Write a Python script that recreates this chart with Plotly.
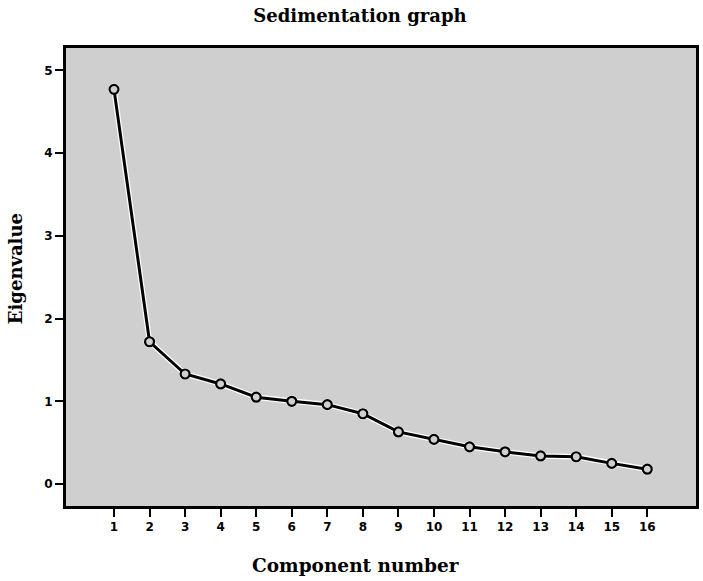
import plotly.graph_objects as go

components = list(range(1, 17))
eigenvalues = [4.77, 1.72, 1.33, 1.21, 1.05, 1.00, 0.96, 0.85, 0.63, 0.54, 0.45, 0.39, 0.34, 0.33, 0.25, 0.18]
x_ticks = list(range(1, 17))
y_ticks = [0, 1, 2, 3, 4, 5]

fig = go.Figure()
# white halo under the line
fig.add_trace(go.Scatter(x=components, y=eigenvalues, mode="lines+markers",
                         line=dict(color="white", width=5.5),
                         marker=dict(size=12, color="white", line=dict(width=0)),
                         hoverinfo="skip", showlegend=False))
fig.add_trace(go.Scatter(x=components, y=eigenvalues, mode="lines+markers",
                         line=dict(color="black", width=3),
                         marker=dict(symbol="circle", size=9, color="#cfcfcf",
                                     line=dict(color="black", width=2.2)),
                         showlegend=False))

title_font = dict(family="DejaVu Serif", size=18, color="black", weight="bold")
tick_font = dict(family="DejaVu Sans", size=12, color="black", weight="bold")

fig.update_layout(
    width=703, height=581,
    margin=dict(l=66, r=4, t=48, b=75),
    paper_bgcolor="white",
    plot_bgcolor="#cfcfcf",
    title=dict(text="Sedimentation graph", x=0.512, xanchor="center", y=0.984, yanchor="top",
               font=title_font),
    xaxis=dict(range=[-0.35, 17.37], tickvals=x_ticks, ticktext=[str(v) for v in x_ticks],
               showgrid=False, zeroline=False, showline=True, linecolor="black", linewidth=3,
               mirror=True, ticks="outside", ticklen=8, tickwidth=2, tickcolor="black",
               tickfont=tick_font),
    yaxis=dict(range=[-0.265, 5.27], tickvals=y_ticks, ticktext=[str(v) for v in y_ticks],
               showgrid=False, zeroline=False, showline=True, linecolor="black", linewidth=3,
               mirror=True, ticks="outside", ticklen=8, tickwidth=2, tickcolor="black",
               tickfont=tick_font),
    annotations=[
        dict(text="Component number", xref="paper", yref="paper", x=0.4597, y=-0.131,
             xanchor="center", yanchor="middle", showarrow=False,
             font=dict(family="DejaVu Serif", size=18.5, color="black", weight="bold")),
        dict(text="Eigenvalue", xref="paper", yref="paper", x=-0.079, y=0.5175,
             xanchor="center", yanchor="middle", showarrow=False, textangle=-90,
             font=dict(family="DejaVu Serif", size=18, color="black", weight="bold")),
    ],
)

fig.write_html("out.html")
